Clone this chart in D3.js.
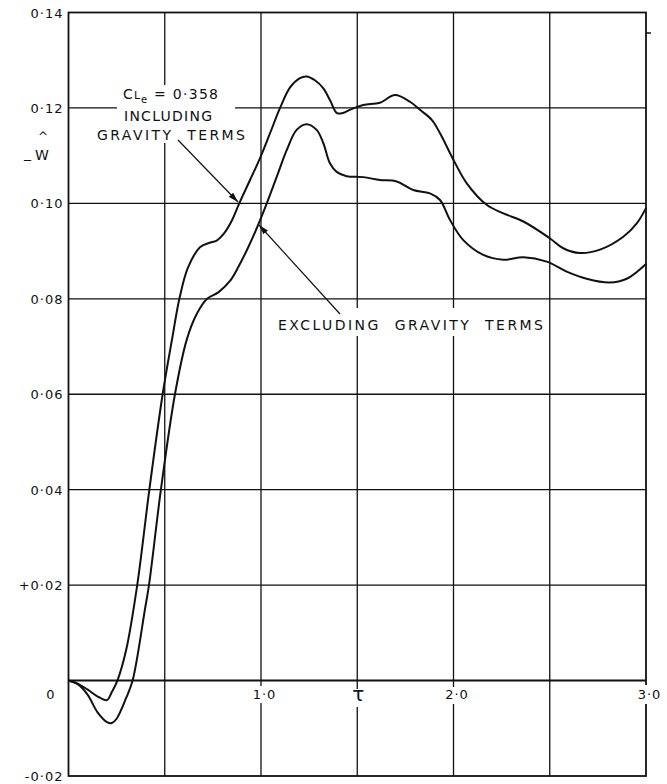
<!DOCTYPE html>
<html>
<head>
<meta charset="utf-8">
<script src="https://cdn.jsdelivr.net/npm/d3@7"></script>
<style>
body { margin:0; background:#fff; }
svg text { font-family: "DejaVu Sans", sans-serif; fill:#111; }
</style>
</head>
<body>
<svg id="chart" width="667" height="784"></svg>
<script>
// curve readings, tau vs -w^
var tauIncl = [0, 0.05, 0.1, 0.15, 0.2, 0.225, 0.254, 0.3, 0.357, 0.42, 0.489, 0.54, 0.576, 0.62, 0.683, 0.73, 0.77, 0.81, 0.85, 0.887, 0.943, 0.995, 1.047, 1.099, 1.151, 1.2, 1.237, 1.28, 1.324, 1.36, 1.395, 1.43, 1.462, 1.531, 1.618, 1.696, 1.774, 1.826, 1.887, 1.93, 2.0, 2.069, 2.172, 2.259, 2.363, 2.5, 2.57, 2.657, 2.761, 2.882, 2.952, 3.0];
var wIncl = [0, -0.0007, -0.0019, -0.0033, -0.0041, -0.0024, 0, 0.0065, 0.02, 0.04, 0.06, 0.072, 0.08, 0.0865, 0.0908, 0.0917, 0.0922, 0.0938, 0.0965, 0.10, 0.1049, 0.1095, 0.1147, 0.12, 0.1243, 0.1262, 0.1266, 0.1258, 0.1241, 0.1215, 0.1189, 0.119, 0.1196, 0.1206, 0.1211, 0.1227, 0.1213, 0.1196, 0.1175, 0.1147, 0.1091, 0.1042, 0.0997, 0.0979, 0.0962, 0.0927, 0.0906, 0.0896, 0.0903, 0.093, 0.0958, 0.099];

var tauExcl = [0, 0.05, 0.1, 0.15, 0.2, 0.225, 0.25, 0.3, 0.333, 0.397, 0.418, 0.48, 0.553, 0.614, 0.666, 0.72, 0.78, 0.84, 0.88, 0.93, 0.98, 1.03, 1.082, 1.134, 1.185, 1.237, 1.289, 1.324, 1.358, 1.393, 1.445, 1.531, 1.618, 1.705, 1.791, 1.878, 1.93, 1.982, 2.051, 2.155, 2.259, 2.363, 2.484, 2.588, 2.692, 2.81, 2.9, 3.0];
var wExcl = [0, -0.0008, -0.003, -0.0066, -0.0087, -0.0089, -0.008, -0.0036, 0, 0.0149, 0.02, 0.04, 0.06, 0.0714, 0.0768, 0.08, 0.0814, 0.0838, 0.0865, 0.0905, 0.095, 0.1, 0.1056, 0.1112, 0.1154, 0.1166, 0.1154, 0.1126, 0.1084, 0.1066, 0.1057, 0.1055, 0.1049, 0.1046, 0.1028, 0.1021, 0.1007, 0.0965, 0.0923, 0.0892, 0.0882, 0.0887, 0.0878, 0.0857, 0.0842, 0.0834, 0.0842, 0.0873];

var xGrid = [0.5, 1.0, 1.5, 2.0, 2.5];
var yGrid = [0.02, 0.04, 0.06, 0.08, 0.10, 0.12];
var yTicks = [0.14, 0.12, 0.10, 0.08, 0.06, 0.04, 0.02, 0, -0.02];
var yLabels = ["0·14", "0·12", "0·10", "0·08", "0·06", "0·04", "+0·02", "0", "-0·02"];
var xTicks = [1.0, 1.5, 2.0, 3.0];
var xLabels = ["1·0", "τ", "2·0", "3·0"];

var svg = d3.select("#chart");
var x = d3.scaleLinear().domain([0, 3]).range([68.5, 646]);
var y = d3.scaleLinear().domain([-0.02, 0.14]).range([776, 12.5]);

var ink = "#111";

// grid
svg.append("g").selectAll("line").data(xGrid).enter().append("line")
  .attr("x1", d => x(d)).attr("x2", d => x(d))
  .attr("y1", y(0.14)).attr("y2", y(-0.02))
  .attr("stroke", ink).attr("stroke-width", 1.3);
svg.append("g").selectAll("line").data(yGrid).enter().append("line")
  .attr("x1", x(0)).attr("x2", x(3))
  .attr("y1", d => y(d)).attr("y2", d => y(d))
  .attr("stroke", ink).attr("stroke-width", 1.3);
svg.append("line")
  .attr("x1", x(0)).attr("x2", x(3)).attr("y1", y(0)).attr("y2", y(0))
  .attr("stroke", ink).attr("stroke-width", 2);

// frame
svg.append("rect")
  .attr("x", x(0)).attr("y", y(0.14))
  .attr("width", x(3) - x(0)).attr("height", y(-0.02) - y(0.14))
  .attr("fill", "none").attr("stroke", ink).attr("stroke-width", 1.8);
svg.append("line")
  .attr("x1", x(3)).attr("x2", x(3) + 5).attr("y1", 33).attr("y2", 33)
  .attr("stroke", ink).attr("stroke-width", 1.5);

// white gaps where the lettering sits
var gaps = [[117, 85, 118, 58], [275, 308, 272, 28], [249, 686, 26, 17], [349, 689, 22, 18], [442, 687, 28, 17], [632, 685, 30, 19]];
svg.append("g").selectAll("rect").data(gaps).enter().append("rect")
  .attr("x", d => d[0]).attr("y", d => d[1])
  .attr("width", d => d[2]).attr("height", d => d[3])
  .attr("fill", "#fff");

// y axis labels
var yAxis = d3.axisLeft(y).tickValues(yTicks).tickSize(0).tickPadding(6)
  .tickFormat((d, i) => yLabels[i]);
var gy = svg.append("g").attr("transform", "translate(" + x(0) + ",0)").call(yAxis);
gy.select(".domain").remove();
gy.selectAll("text").attr("font-size", 13).attr("letter-spacing", 1)
  .attr("font-family", "DejaVu Sans").attr("fill", ink)
  .attr("dy", d => d === 0 ? "1.35em" : "0.35em")
  .attr("x", d => d === 0 ? -13 : -5);

// x axis labels
var xAxis = d3.axisBottom(x).tickValues(xTicks).tickSize(0).tickPadding(0)
  .tickFormat((d, i) => xLabels[i]);
var gx = svg.append("g").attr("transform", "translate(0," + y(0) + ")").call(xAxis);
gx.select(".domain").remove();
gx.selectAll("text").attr("font-size", 13).attr("letter-spacing", 1)
  .attr("font-family", "DejaVu Sans").attr("fill", ink)
  .attr("y", 9).attr("dx", d => d === 1.5 ? 1 : 3);
gx.selectAll("text").filter(d => d === 1.5)
  .attr("font-size", 20).attr("font-family", "DejaVu Serif").attr("y", 6);

// curves
var line = d3.line().x(d => x(d[0])).y(d => y(d[1])).curve(d3.curveCatmullRom.alpha(0.5));
var incl = tauIncl.map((t, i) => [t, wIncl[i]]);
var excl = tauExcl.map((t, i) => [t, wExcl[i]]);
[incl, excl].forEach(function (s) {
  svg.append("path").datum(s).attr("d", line)
    .attr("fill", "none").attr("stroke", ink).attr("stroke-width", 2)
    .attr("stroke-linejoin", "round");
});

// axis name -w^
svg.append("text").attr("x", 24).attr("y", 158).attr("font-size", 14).text("_");
svg.append("text").attr("x", 35).attr("y", 160).attr("font-size", 14).text("W");
svg.append("text").attr("x", 38).attr("y", 141).attr("font-size", 12).text("^");

// annotations
svg.append("defs").append("marker")
  .attr("id", "head").attr("viewBox", "0 -3 10 6")
  .attr("refX", 10).attr("refY", 0)
  .attr("markerWidth", 10).attr("markerHeight", 6)
  .attr("markerUnits", "userSpaceOnUse")
  .attr("orient", "auto")
  .append("path").attr("d", "M0,-3L10,0L0,3Z").attr("fill", ink);

svg.append("line").attr("x1", 178).attr("y1", 140).attr("x2", 238).attr("y2", 202)
  .attr("stroke", ink).attr("stroke-width", 1.2).attr("marker-end", "url(#head)");
svg.append("line").attr("x1", 340).attr("y1", 314).attr("x2", 259).attr("y2", 225)
  .attr("stroke", ink).attr("stroke-width", 1.2).attr("marker-end", "url(#head)");

var lab = svg.append("g").attr("font-size", 14);
lab.append("text").attr("x", 123).attr("y", 99).text("C");
lab.append("text").attr("x", 134).attr("y", 99).attr("font-size", 11).text("L");
lab.append("text").attr("x", 141).attr("y", 103).attr("font-size", 10).text("e");
lab.append("text").attr("x", 154).attr("y", 99).attr("textLength", 64).attr("lengthAdjust", "spacing").text("= 0·358");
lab.append("text").attr("x", 124).attr("y", 121).attr("textLength", 88).attr("lengthAdjust", "spacing").text("INCLUDING");
lab.append("text").attr("x", 97).attr("y", 140).attr("textLength", 148).attr("lengthAdjust", "spacing").attr("xml:space", "preserve").text("GRAVITY  TERMS");
lab.append("text").attr("x", 278).attr("y", 330).attr("textLength", 265).attr("lengthAdjust", "spacing").attr("xml:space", "preserve").text("EXCLUDING  GRAVITY  TERMS");
</script>
</body>
</html>
